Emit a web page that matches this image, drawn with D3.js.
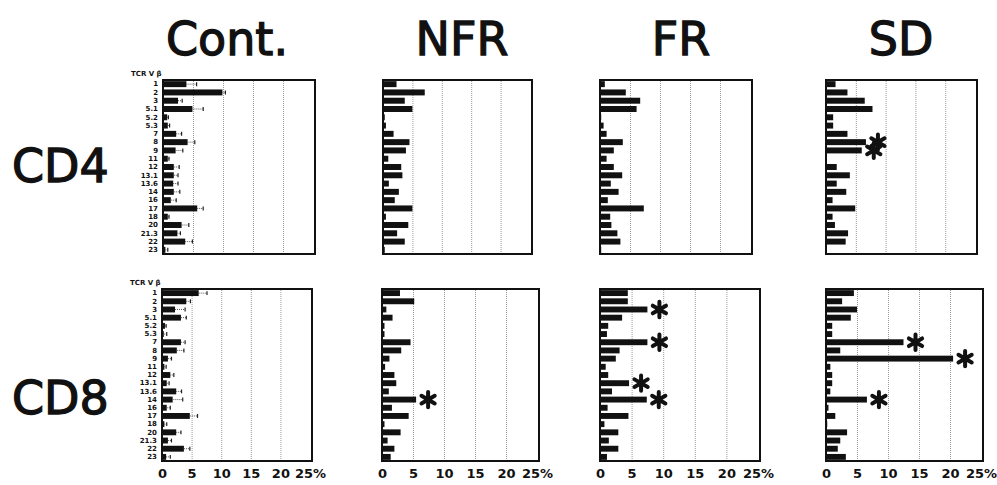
<!DOCTYPE html>
<html>
<head>
<meta charset="utf-8">
<script src="https://cdn.jsdelivr.net/npm/d3@7"></script>
<style>
  body { margin: 0; background: #fff; }
  svg { display: block; }
  text { font-family: "DejaVu Sans", sans-serif; fill: #111; }
</style>
</head>
<body>
<svg id="chart" width="997" height="485"></svg>
<script>
// TCR V beta families, top to bottom
var vbeta = ["1","2","3","5.1","5.2","5.3","7","8","9","11","12","13.1","13.6","14","16","17","18","20","21.3","22","23"];
var groups = ["Cont.", "NFR", "FR", "SD"];
var cells = ["CD4", "CD8"];
var xTicks = [0, 5, 10, 15, 20, 25];

// % of CD4 T cells
var contCD4    = [3.9, 9.9, 2.5, 4.9, 0.7, 0.8, 2.2, 4.1, 2.1, 0.8, 1.8, 1.8, 1.7, 1.8, 1.3, 5.7, 0.8, 3.1, 2.4, 3.7, 0.4];
var contCD4Err = [1.7, 0.5, 0.7, 1.8, 0.2, 0.3, 0.9, 1.2, 1.2, 0.2, 0.9, 0.7, 0.8, 1.0, 0.9, 1.0, 0.2, 1.2, 0.5, 1.2, 0.4];
var nfrCD4 = [2.3, 7.1, 3.7, 5.0, 0.3, 0.5, 1.8, 4.5, 3.9, 0.9, 3.1, 3.3, 1.0, 2.7, 2.0, 5.0, 0.5, 4.3, 2.4, 3.7, 0.3];
var frCD4  = [0.8, 4.3, 6.7, 6.1, 0.2, 0.6, 1.1, 3.8, 2.3, 1.1, 2.3, 3.7, 1.8, 3.1, 1.3, 7.3, 1.7, 1.9, 2.9, 3.4, 0.2];
var sdCD4  = [1.6, 3.6, 6.5, 7.8, 1.2, 1.2, 3.6, 6.7, 6.0, 0.1, 1.8, 4.0, 1.8, 3.4, 1.1, 4.9, 1.1, 1.5, 3.7, 3.3, 0.1];

// % of CD8 T cells
var contCD8    = [6.2, 4.1, 2.2, 3.2, 0.5, 0.3, 3.2, 2.5, 1.0, 0.4, 1.4, 0.8, 2.4, 1.8, 0.8, 4.7, 0.4, 2.4, 1.0, 3.7, 0.7];
var contCD8Err = [1.4, 0.7, 1.7, 0.9, 0.2, 0.5, 0.7, 1.2, 0.6, 0.3, 0.6, 0.4, 0.9, 1.7, 0.6, 1.3, 0.4, 0.8, 0.6, 1.0, 0.7];
var nfrCD8 = [2.9, 5.2, 0.7, 1.7, 0.4, 0.4, 4.6, 3.1, 1.2, 0.5, 2.0, 2.3, 1.1, 5.5, 1.6, 4.3, 0.4, 3.0, 0.9, 2.0, 1.4];
var frCD8  = [4.4, 4.4, 7.5, 3.5, 1.3, 1.1, 7.5, 3.1, 2.5, 0.9, 1.3, 4.6, 1.9, 7.4, 1.2, 4.5, 0.7, 2.9, 1.4, 2.9, 1.1];
var sdCD8  = [4.5, 2.6, 5.0, 4.0, 1.0, 1.0, 12.5, 2.3, 20.5, 0.7, 1.0, 1.0, 0.7, 6.6, 0.4, 1.5, 0.2, 3.4, 2.3, 1.9, 3.2];

// significant differences vs control (*)
var sdCD4Sig  = ["8", "9"];
var nfrCD8Sig = ["14"];
var frCD8Sig  = ["3", "7", "13.1", "14"];
var sdCD8Sig  = ["7", "9", "14"];

var panels = [
  { row: 0, col: 0, values: contCD4, err: contCD4Err, sig: [] },
  { row: 0, col: 1, values: nfrCD4, sig: [] },
  { row: 0, col: 2, values: frCD4, sig: [] },
  { row: 0, col: 3, values: sdCD4, sig: sdCD4Sig },
  { row: 1, col: 0, values: contCD8, err: contCD8Err, sig: [] },
  { row: 1, col: 1, values: nfrCD8, sig: nfrCD8Sig },
  { row: 1, col: 2, values: frCD8, sig: frCD8Sig },
  { row: 1, col: 3, values: sdCD8, sig: sdCD8Sig }
];

// frame layout (pixels)
var rowY = [[80, 254], [289, 461]];
var colX = [
  [[163, 313], [383, 530], [600, 750], [826, 975]],
  [[162, 310], [382, 537], [600, 758], [826, 981]]
];
var titleX = [227, 462, 681, 901];
var rowLabelY = [182, 414];

var svg = d3.select("#chart");

svg.selectAll(".grp")
  .data(groups)
  .enter().append("text")
    .attr("x", function (d, i) { return titleX[i]; })
    .attr("y", 55)
    .attr("text-anchor", "middle")
    .style("font-size", "46px")
    .style("stroke", "#111").style("stroke-width", "1.3px")
    .text(function (d) { return d; });

svg.selectAll(".cell")
  .data(cells)
  .enter().append("text")
    .attr("x", 12)
    .attr("y", function (d, i) { return rowLabelY[i]; })
    .style("font-size", "46px")
    .style("stroke", "#111").style("stroke-width", "1.3px")
    .text(function (d) { return d; });

var star = d3.symbol().type(d3.symbolAsterisk).size(165);

panels.forEach(function (p) {
  var xr = colX[p.row][p.col], yr = rowY[p.row];
  var x = d3.scaleLinear().domain([0, 25]).range(xr);
  var y = d3.scaleBand().domain(vbeta).range(yr).paddingInner(0.28).paddingOuter(0.14);
  var g = svg.append("g");

  // dotted gridlines
  g.append("g")
    .attr("transform", "translate(0," + yr[1] + ")")
    .call(d3.axisBottom(x).tickValues([5, 10, 15, 20]).tickSize(-(yr[1] - yr[0])).tickFormat(""))
    .call(function (a) {
      a.select(".domain").remove();
      a.selectAll("line").attr("stroke", "#999").attr("stroke-width", 1).attr("stroke-dasharray", "1,1");
    });

  g.selectAll(".bar")
    .data(p.values)
    .enter().append("rect")
      .attr("x", x(0))
      .attr("y", function (d, i) { return y(vbeta[i]); })
      .attr("width", function (d) { return x(d) - x(0); })
      .attr("height", y.bandwidth())
      .attr("fill", "#111");

  if (p.err) {
    var eb = g.selectAll(".err")
      .data(p.values)
      .enter().append("g");
    eb.append("line")
      .attr("x1", function (d) { return x(d); })
      .attr("x2", function (d, i) { return x(d + p.err[i]); })
      .attr("y1", function (d, i) { return y(vbeta[i]) + y.bandwidth() / 2; })
      .attr("y2", function (d, i) { return y(vbeta[i]) + y.bandwidth() / 2; })
      .attr("stroke", "#555").attr("stroke-width", 1).attr("stroke-dasharray", "1,1");
    eb.append("line")
      .attr("x1", function (d, i) { return x(d + p.err[i]); })
      .attr("x2", function (d, i) { return x(d + p.err[i]); })
      .attr("y1", function (d, i) { return y(vbeta[i]) + 1; })
      .attr("y2", function (d, i) { return y(vbeta[i]) + y.bandwidth() - 1; })
      .attr("stroke", "#222").attr("stroke-width", 1.2);

    // TCR V beta labels
    g.append("g")
      .attr("transform", "translate(" + (xr[0] - 2) + ",0)")
      .call(d3.axisLeft(y).tickSize(0).tickPadding(3))
      .call(function (a) {
        a.select(".domain").remove();
        a.selectAll("text").style("font-size", "7px").style("font-weight", "bold").attr("fill", "#333");
      });
    g.append("text")
      .attr("x", xr[0] - 32)
      .attr("y", yr[0] - 4)
      .style("font-size", "7px")
      .style("font-weight", "bold")
      .attr("fill", "#333")
      .text("TCR V β");
  }

  g.selectAll(".sig")
    .data(p.sig)
    .enter().append("path")
      .attr("d", star)
      .attr("transform", function (d) {
        var v = p.values[vbeta.indexOf(d)];
        return "translate(" + (x(v) + 12) + "," + (y(d) + y.bandwidth() / 2) + ")";
      })
      .attr("fill", "none")
      .attr("stroke", "#111")
      .attr("stroke-width", 4)
      .attr("stroke-linecap", "round");

  // frame
  g.append("rect")
    .attr("x", xr[0]).attr("y", yr[0])
    .attr("width", xr[1] - xr[0] + 2).attr("height", yr[1] - yr[0])
    .attr("fill", "none").attr("stroke", "#111").attr("stroke-width", 2);

  if (p.row === 1) {
    g.append("g")
      .attr("transform", "translate(0," + (yr[1] + 5) + ")")
      .call(d3.axisBottom(x).tickValues(xTicks).tickSize(0).tickPadding(3)
        .tickFormat(function (d) { return d === 25 ? "25%" : d; }))
      .call(function (a) {
        a.select(".domain").remove();
        a.selectAll("text").style("font-size", "13px").style("font-weight", "bold").attr("fill", "#111");
      });
  }
});
</script>
</body>
</html>
